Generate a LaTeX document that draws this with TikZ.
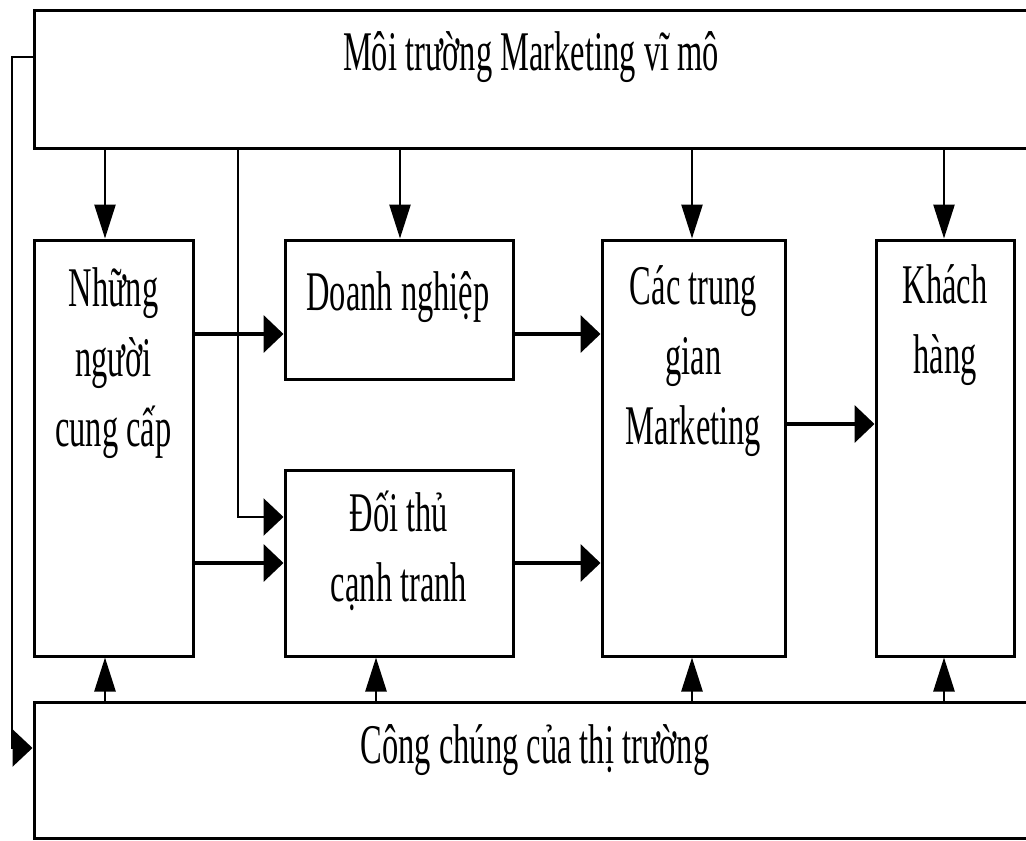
\documentclass[tikz,border=0pt]{standalone}
\usepackage{fontspec}
\setmainfont[FakeStretch=0.58]{Liberation Serif}
\usetikzlibrary{arrows.meta}
\begin{document}
\begin{tikzpicture}[x=1pt,y=-1pt,
  box/.style={draw, line width=3pt, inner sep=0pt},
  lbl/.style={anchor=base, align=center, inner sep=0pt, font=\fontsize{56}{70}\selectfont},
  harrow/.style={line width=4pt, -{Triangle[length=20pt,width=37pt]}},
  varrow/.style={line width=2.6pt, -{Triangle[length=34pt,width=21pt]}},
  plain/.style={line width=2.6pt}]
\clip (0,0) rectangle (1026,841);
\fill[white] (0,0) rectangle (1026,841);
% boxes
\node[box, minimum width=1026pt, minimum height=138pt] (macro) at (547,79) {};
\node[box, minimum width=1026pt, minimum height=136pt] (pub) at (547,770) {};
\node[box, minimum width=159pt, minimum height=416pt] (ncc) at (113.5,448) {};
\node[box, minimum width=228pt, minimum height=139pt] (dn) at (399,309.5) {};
\node[box, minimum width=228pt, minimum height=186pt] (dt) at (399,563) {};
\node[box, minimum width=183pt, minimum height=416pt] (tg) at (693.5,448) {};
\node[box, minimum width=138pt, minimum height=416pt] (kh) at (945,448) {};
% texts (anchor=base is the baseline of the last line)
\node[lbl] (macro-t) at (531,70) {Môi trường Marketing vĩ mô};
\node[lbl] (pub-t) at (535,763) {Công chúng của thị trường};
\node[lbl] (ncc-t) at (113.5,446) {Những\\người\\cung cấp};
\node[lbl] (dn-t) at (398,310) {Doanh nghiệp};
\node[lbl] (dt-t) at (399,601) {Đối thủ\\cạnh tranh};
\node[lbl] (tg-t) at (693.5,444) {Các trung\\gian\\Marketing};
\node[lbl] (kh-t) at (945,373) {Khách\\hàng};
% arrows from macro environment
\draw[varrow] (macro.south -| 105,0) -- (ncc.north -| 105,0);
\draw[varrow] (macro.south -| 400,0) -- (dn.north -| 400,0);
\draw[varrow] (macro.south -| 692,0) -- (tg.north -| 692,0);
\draw[varrow] (macro.south -| 944,0) -- (kh.north -| 944,0);
% arrows from public
\draw[varrow] (pub.north -| 105,0) -- (ncc.south -| 105,0);
\draw[varrow] (pub.north -| 376,0) -- (dt.south -| 376,0);
\draw[varrow] (pub.north -| 692,0) -- (tg.south -| 692,0);
\draw[varrow] (pub.north -| 944,0) -- (kh.south -| 944,0);
% left loop
\draw[plain, -{Triangle[length=20pt,width=37pt]}] (macro.west |- 0,57) -- (12,57) -- (12,748) -- (pub.west |- 0,748);
% branch to competitors
\draw[plain, -{Triangle[length=20pt,width=37pt]}] (macro.south -| 238,0) -- (238,517) -- (dt.west |- 0,517);
% horizontal flows
\draw[harrow] (ncc.east |- 0,334) -- (dn.west |- 0,334);
\draw[harrow] (ncc.east |- 0,563) -- (dt.west |- 0,563);
\draw[harrow] (dn.east |- 0,334) -- (tg.west |- 0,334);
\draw[harrow] (dt.east |- 0,563) -- (tg.west |- 0,563);
\draw[harrow] (tg.east |- 0,424) -- (kh.west |- 0,424);
\end{tikzpicture}
\end{document}
